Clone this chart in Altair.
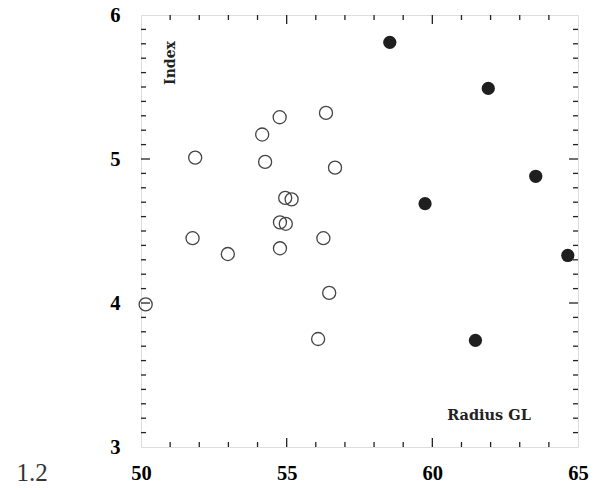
import altair as alt
import pandas as pd

# Open circles
open_x = [56.35, 54.76, 54.16, 51.86, 54.26, 56.66, 54.95, 55.17, 54.77, 54.97,
          51.77, 56.26, 54.77, 52.98, 56.46, 50.16, 56.08]
open_y = [5.32, 5.29, 5.17, 5.01, 4.98, 4.94, 4.73, 4.72, 4.56, 4.55,
          4.45, 4.45, 4.38, 4.34, 4.07, 3.99, 3.75]
# Filled circles
fill_x = [58.54, 61.92, 63.55, 59.75, 64.65, 61.48]
fill_y = [5.81, 5.49, 4.88, 4.69, 4.33, 3.74]

x_major = [50, 55, 60, 65]
y_major = [3, 4, 5, 6]
x_minor = [51, 52, 53, 54, 56, 57, 58, 59, 61, 62, 63, 64]
y_minor = [round(3 + i / 10, 1) for i in range(1, 30) if i % 10 != 0]
x_mid = [55, 60]
y_mid = [4, 5]

W, H = 437, 432
FONT = "Liberation Serif"
INNER_FONT = "DejaVu Serif"

xs = alt.Scale(domain=[50, 65], nice=False, zero=False)
ys = alt.Scale(domain=[3, 6], nice=False, zero=False)

open_df = pd.DataFrame({"x": open_x, "y": open_y})
fill_df = pd.DataFrame({"x": fill_x, "y": fill_y})

axis_common = dict(ticks=False, domain=False, grid=False, labelFont=FONT,
                   labelFontWeight="bold", labelFontSize=20.5, labelColor="black",
                   labelFlush=False, labelOverlap=False, title=None, format="d")

base_open = alt.Chart(open_df).mark_point(
    shape="circle", filled=False, stroke="#444444", strokeWidth=1.3, size=170, opacity=1
).encode(
    x=alt.X("x:Q", scale=xs, axis=alt.Axis(values=x_major, labelPadding=16, **axis_common)),
    y=alt.Y("y:Q", scale=ys, axis=alt.Axis(values=y_major, labelPadding=21, **axis_common)),
)

filled = alt.Chart(fill_df).mark_circle(color="#1f1f1f", size=175, opacity=1).encode(
    x=alt.X("x:Q", scale=xs), y=alt.Y("y:Q", scale=ys)
)

def xticks(vals, length):
    df = pd.DataFrame({"t": vals})
    bottom = alt.Chart(df).mark_rule(color="#222222", strokeWidth=1.3).encode(
        x=alt.X("t:Q", scale=xs), y=alt.value(H), y2=alt.value(H - length))
    top = alt.Chart(df).mark_rule(color="#222222", strokeWidth=1.3).encode(
        x=alt.X("t:Q", scale=xs), y=alt.value(0), y2=alt.value(length))
    return [bottom, top]

def yticks(vals, length):
    df = pd.DataFrame({"t": vals})
    left = alt.Chart(df).mark_rule(color="#222222", strokeWidth=1.3).encode(
        y=alt.Y("t:Q", scale=ys), x=alt.value(0), x2=alt.value(length))
    right = alt.Chart(df).mark_rule(color="#222222", strokeWidth=1.3).encode(
        y=alt.Y("t:Q", scale=ys), x=alt.value(W), x2=alt.value(W - length))
    return [left, right]

tick_layers = (xticks(x_minor, 5) + xticks(x_mid, 9) +
               yticks(y_minor, 5) + yticks(y_mid, 9))

label_df = pd.DataFrame({"a": [0]})
index_label = alt.Chart(label_df).mark_text(
    text="Index", font=INNER_FONT, fontWeight="bold", fontSize=14, angle=270,
    align="center", baseline="middle", color="#222222"
).encode(x=alt.value(30), y=alt.value(48))

radius_label = alt.Chart(label_df).mark_text(
    text="Radius GL", font=INNER_FONT, fontWeight="bold", fontSize=14.5,
    align="center", baseline="middle", color="#222222"
).encode(x=alt.value(348), y=alt.value(401))

fig_label = alt.Chart(label_df).mark_text(
    text="1.2", font=FONT, fontSize=25, align="center", baseline="middle", color="#333333"
).encode(x=alt.value(-109), y=alt.value(458))

chart = alt.layer(
    base_open, filled, *tick_layers, index_label, radius_label, fig_label
).properties(
    width=W, height=H,
    autosize=alt.AutoSizeParams(type="none"),
    padding={"left": 141, "top": 15, "right": 17, "bottom": 44},
).configure_view(
    stroke="#222222", strokeWidth=2
).configure(background="white")

chart.save("out.html", embed_options={"renderer": "svg", "actions": False})
